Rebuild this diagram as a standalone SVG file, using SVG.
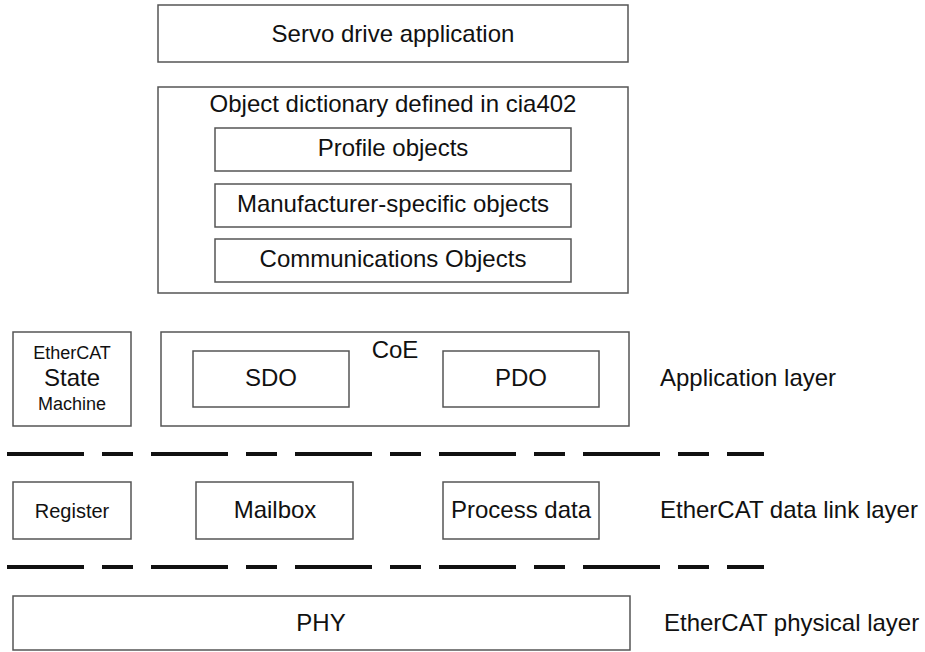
<svg xmlns="http://www.w3.org/2000/svg" width="925" height="652" viewBox="0 0 925 652">
<style>
rect{fill:#fff;stroke:#555;stroke-width:1.5}
text{font-family:"Liberation Sans",Arial,sans-serif;font-size:24px;fill:#111;text-anchor:middle}
.l{text-anchor:start}
.s{font-size:18px}
.r{font-size:20px}
.d{stroke:#111;stroke-width:4;stroke-dasharray:77 18 31 18;fill:none}
</style>
<rect x="0" y="0" width="925" height="652" style="stroke:none"/>
<g id="servo"><rect x="158" y="5" width="470" height="57"/><text x="393" y="42">Servo drive application</text></g>
<g id="objdict"><rect x="158" y="87" width="470" height="206"/><text x="393" y="112">Object dictionary defined in cia402</text></g>
<g id="profile"><rect x="215" y="128" width="356" height="43"/><text x="393" y="156">Profile objects</text></g>
<g id="manuf"><rect x="215" y="184" width="356" height="43"/><text x="393" y="212">Manufacturer-specific objects</text></g>
<g id="comm"><rect x="215" y="239" width="356" height="43"/><text x="393" y="267">Communications Objects</text></g>
<g id="esm"><rect x="13" y="332" width="118" height="94"/><text class="s" x="72" y="359">EtherCAT</text><text x="72" y="386">State</text><text class="s" x="72" y="410">Machine</text></g>
<g id="coe"><rect x="161" y="332" width="468" height="94"/><text x="395" y="358">CoE</text></g>
<g id="sdo"><rect x="193" y="351" width="156" height="56"/><text x="271" y="386">SDO</text></g>
<g id="pdo"><rect x="443" y="351" width="156" height="56"/><text x="521" y="386">PDO</text></g>
<g id="register"><rect x="13" y="482" width="118" height="57"/><text class="r" x="72" y="518">Register</text></g>
<g id="mailbox"><rect x="196" y="482" width="157" height="57"/><text x="275" y="518">Mailbox</text></g>
<g id="process"><rect x="443" y="482" width="156" height="57"/><text x="521" y="518">Process data</text></g>
<g id="phy"><rect x="13" y="596" width="617" height="54"/><text x="321" y="631">PHY</text></g>
<g id="labels">
<text class="l" x="660" y="386">Application layer</text>
<text class="l" x="660" y="518">EtherCAT data link layer</text>
<text class="l" x="664" y="631">EtherCAT physical layer</text>
</g>
<g id="connectors">
<line class="d" x1="7" y1="454" x2="764" y2="454"/>
<line class="d" x1="7" y1="567" x2="764" y2="567"/>
</g>
</svg>
